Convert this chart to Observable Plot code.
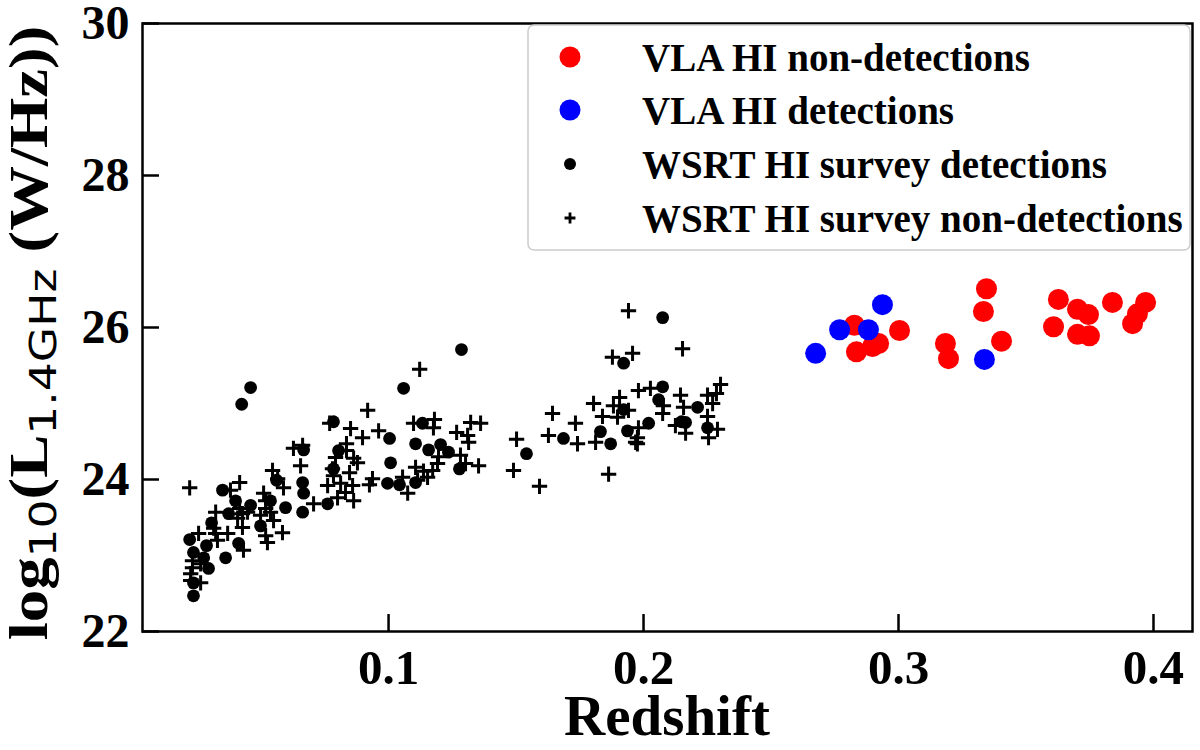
<!DOCTYPE html>
<html>
<head>
<meta charset="utf-8">
<script src="https://cdn.jsdelivr.net/npm/d3@7"></script>
<script src="https://cdn.jsdelivr.net/npm/@observablehq/plot@0.6"></script>
<style>
  body { margin: 0; background: white; }
  #graph { width: 1200px; height: 750px; }
</style>
</head>
<body>
<div id="graph"></div>
<script>
// VLA sample (red = non-detections, blue = detections)
const vlaNonZ = [0.2827, 0.2835, 0.2898, 0.2922, 0.3004, 0.3184, 0.3196, 0.3345, 0.3333, 0.3404, 0.3627, 0.3608, 0.3702, 0.3745, 0.3702, 0.3749, 0.3839, 0.3969, 0.3937, 0.3918];
const vlaNonL = [26.03, 25.68, 25.75, 25.79, 25.96, 25.79, 25.59, 26.51, 26.21, 25.82, 26.37, 26.01, 26.24, 26.17, 25.91, 25.89, 26.33, 26.33, 26.18, 26.05];
const vlaDetZ = [0.2675, 0.2769, 0.2882, 0.2937, 0.3337];
const vlaDetL = [25.66, 25.97, 25.97, 26.30, 25.58];

// WSRT survey detections (filled dots)
const wsrtDetZ = [0.0459, 0.0424, 0.0784, 0.1059, 0.1004, 0.1008, 0.0996, 0.1043, 0.0667, 0.0804, 0.0784, 0.0561, 0.0663, 0.0667, 0.0537, 0.0663, 0.0761, 0.0459, 0.0400, 0.0349, 0.0373, 0.0306, 0.0498, 0.0412, 0.0220, 0.0286, 0.0235, 0.0275, 0.0361, 0.0294, 0.0235, 0.0235, 0.0596, 0.1286, 0.1133, 0.1106, 0.1157, 0.1204, 0.1235, 0.1278, 0.1106, 0.1541, 0.1686, 0.1922, 0.1922, 0.1831, 0.1871, 0.1937, 0.2075, 0.2075, 0.2059, 0.2020, 0.2149, 0.2165, 0.2212, 0.2251];
const wsrtDetL = [25.21, 24.99, 24.76, 25.20, 24.54, 24.22, 23.95, 23.93, 24.39, 24.38, 24.14, 23.99, 23.96, 23.82, 23.72, 23.57, 23.68, 23.66, 23.72, 23.86, 23.55, 23.43, 23.39, 23.16, 23.21, 23.13, 23.04, 22.97, 22.97, 22.83, 22.64, 22.47, 23.63, 25.71, 24.74, 24.47, 24.39, 24.46, 24.36, 24.14, 23.96, 24.34, 24.54, 25.53, 24.92, 24.63, 24.47, 24.64, 26.13, 25.22, 25.05, 24.74, 24.76, 24.75, 24.95, 24.68];

// WSRT survey non-detections (plus signs)
const wsrtNonZ = [0.0918, 0.0851, 0.0898, 0.0961, 0.0769, 0.0627, 0.0663, 0.0655, 0.0835, 0.0835, 0.0863, 0.0878, 0.0792, 0.0780, 0.0784, 0.0847, 0.0761, 0.0812, 0.0859, 0.0831, 0.0863, 0.0800, 0.0937, 0.0925, 0.0706, 0.0545, 0.0565, 0.0588, 0.0510, 0.0518, 0.0518, 0.0498, 0.0537, 0.0549, 0.0584, 0.0518, 0.0525, 0.0416, 0.0427, 0.0447, 0.0408, 0.0427, 0.0322, 0.0314, 0.0322, 0.0369, 0.0329, 0.0255, 0.0416, 0.0380, 0.0220, 0.0431, 0.0231, 0.0231, 0.0224, 0.0263, 0.0224, 0.0263,
  0.1122, 0.1180, 0.1176, 0.1098, 0.1322, 0.1361, 0.1267, 0.1310, 0.1314, 0.1282, 0.1196, 0.1192, 0.1173, 0.1137, 0.1106, 0.1153, 0.1114, 0.1055, 0.1075, 0.1353, 0.1302, 0.1502, 0.1490, 0.1592, 0.1643, 0.1627, 0.1733, 0.1741, 0.1804, 0.1812, 0.1839, 0.1878, 0.1957, 0.1882, 0.1906, 0.1898, 0.1941, 0.1863, 0.1980, 0.1969,
  0.1941, 0.2153, 0.2302, 0.2027, 0.2145, 0.2251, 0.2286, 0.2271, 0.2157, 0.2075, 0.2078, 0.2251, 0.2125, 0.2165, 0.2290, 0.2255, 0.1980, 0.1976, 0.1976];
const wsrtNonL = [24.91, 24.67, 24.55, 24.64, 24.74, 24.41, 24.45, 24.18, 24.47, 24.38, 24.28, 24.22, 24.29, 24.14, 24.05, 24.09, 23.92, 23.95, 23.92, 23.83, 23.72, 23.76, 24.01, 23.93, 23.68, 24.12, 24.01, 23.89, 23.82, 23.72, 23.62, 23.53, 23.57, 23.46, 23.30, 23.26, 23.17, 23.62, 23.55, 23.57, 23.49, 23.37, 23.57, 23.36, 23.29, 23.29, 23.20, 23.29, 23.96, 23.86, 23.89, 23.07, 22.93, 22.84, 22.76, 22.64, 22.67, 22.89,
  25.45, 24.79, 24.68, 24.74, 24.75, 24.74, 24.62, 24.58, 24.49, 24.32, 24.30, 24.21, 24.12, 24.11, 24.16, 24.03, 23.99, 24.03, 23.82, 24.18, 24.21, 24.53, 24.12, 23.91, 24.87, 24.58, 24.74, 24.47, 25.00, 24.49, 24.83, 25.61, 25.66, 24.97, 25.08, 24.82, 24.91, 24.07, 25.17, 24.49,
  26.22, 25.72, 25.25, 25.20, 25.11, 25.11, 25.13, 25.00, 24.95, 24.87, 24.97, 24.83, 24.71, 24.61, 24.66, 24.55, 24.68, 24.55, 24.47];

const xTicks = [0.1, 0.2, 0.3, 0.4];
const yTicks = [22, 24, 26, 28, 30];

const legendItems = [
  {label: "VLA HI non-detections", color: "#ff0000", symbol: "circle", r: 10.5},
  {label: "VLA HI detections", color: "#0000ff", symbol: "circle", r: 10.5},
  {label: "WSRT HI survey detections", color: "black", symbol: "circle", r: 6},
  {label: "WSRT HI survey non-detections", color: "black", symbol: "plus", r: 3.6}
];

const pts = (zs, ls) => zs.map((z, i) => ({z: z, L: ls[i]}));

const W = 1200, H = 750;
const mL = 142, mR = 8, mT = 23, mB = 119;
const tickLen = 17;

const chart = Plot.plot({
  width: W,
  height: H,
  marginLeft: mL,
  marginRight: mR,
  marginTop: mT,
  marginBottom: mB,
  style: {fontFamily: "Liberation Serif", fontWeight: "bold", color: "black", background: "white"},
  x: {domain: [0.0035, 0.4153]},
  y: {domain: [22, 30]},
  marks: [
    Plot.axisX(xTicks, {tickSize: 0, tickPadding: 18, fontSize: 49, tickFormat: d => d.toFixed(1), label: null}),
    Plot.axisY(yTicks, {tickSize: 0, tickPadding: 13, fontSize: 48, tickFormat: d => String(d), label: null}),
    // inward ticks
    Plot.tickX(xTicks, {x: d => d, insetTop: (H - mT - mB) - tickLen, strokeWidth: 2.5}),
    Plot.tickY(yTicks, {y: d => d, insetRight: (W - mL - mR) - tickLen, strokeWidth: 2.5}),
    Plot.frame({strokeWidth: 2.5}),
    Plot.dot(pts(wsrtNonZ, wsrtNonL), {x: "z", y: "L", symbol: "plus", r: 5, stroke: "black", strokeWidth: 3}),
    Plot.dot(pts(wsrtDetZ, wsrtDetL), {x: "z", y: "L", r: 6.4, fill: "black"}),
    Plot.dot(pts(vlaNonZ, vlaNonL), {x: "z", y: "L", r: 10.5, fill: "#ff0000"}),
    Plot.dot(pts(vlaDetZ, vlaDetL), {x: "z", y: "L", r: 10.5, fill: "#0000ff"})
  ]
});

d3.select("#graph").append(() => chart);

const svg = d3.select(chart);

// x label
svg.append("text")
  .attr("x", mL + (W - mL - mR) / 2)
  .attr("y", 735)
  .attr("text-anchor", "middle")
  .attr("font-family", "Liberation Serif")
  .attr("font-weight", "bold")
  .attr("font-size", 57)
  .text("Redshift");

// y label with subscripts
const yl = svg.append("text")
  .attr("transform", "translate(47,333) rotate(-90) scale(1.2,1)")
  .attr("text-anchor", "middle")
  .attr("font-family", "Liberation Serif")
  .attr("font-weight", "bold")
  .attr("font-size", 54);
yl.append("tspan").text("log");
yl.append("tspan").attr("dy", 9).attr("font-family", "DejaVu Sans").attr("font-weight", "normal").attr("font-size", 38).text("10");
yl.append("tspan").attr("dy", -9).text("(L");
yl.append("tspan").attr("dy", 9).attr("font-family", "DejaVu Sans").attr("font-weight", "normal").attr("font-size", 38).text("1.4GHz");
yl.append("tspan").attr("dy", -9).text(" (W/Hz))");

// legend box
const lg = svg.append("g");
lg.append("rect")
  .attr("x", 528).attr("y", 25).attr("width", 662).attr("height", 225)
  .attr("rx", 6)
  .attr("fill", "white").attr("fill-opacity", 0.85)
  .attr("stroke", "#cccccc").attr("stroke-width", 1.5);
const rowY = [57, 110, 164, 218];
legendItems.forEach((it, i) => {
  const sym = it.symbol === "plus" ? d3.symbolPlus : d3.symbolCircle;
  const path = d3.symbol(sym, Math.PI * it.r * it.r)();
  const p = lg.append("path")
    .attr("d", path)
    .attr("transform", `translate(570,${rowY[i]})`);
  if (it.symbol === "plus") p.attr("fill", "none").attr("stroke", it.color).attr("stroke-width", 2.8);
  else p.attr("fill", it.color);
  lg.append("text")
    .attr("x", 642).attr("y", rowY[i])
    .attr("dy", "0.35em")
    .attr("text-anchor", "start")
    .attr("font-family", "Liberation Serif")
    .attr("font-weight", "bold")
    .attr("font-size", 39)
    .text(it.label);
});
</script>
</body>
</html>
